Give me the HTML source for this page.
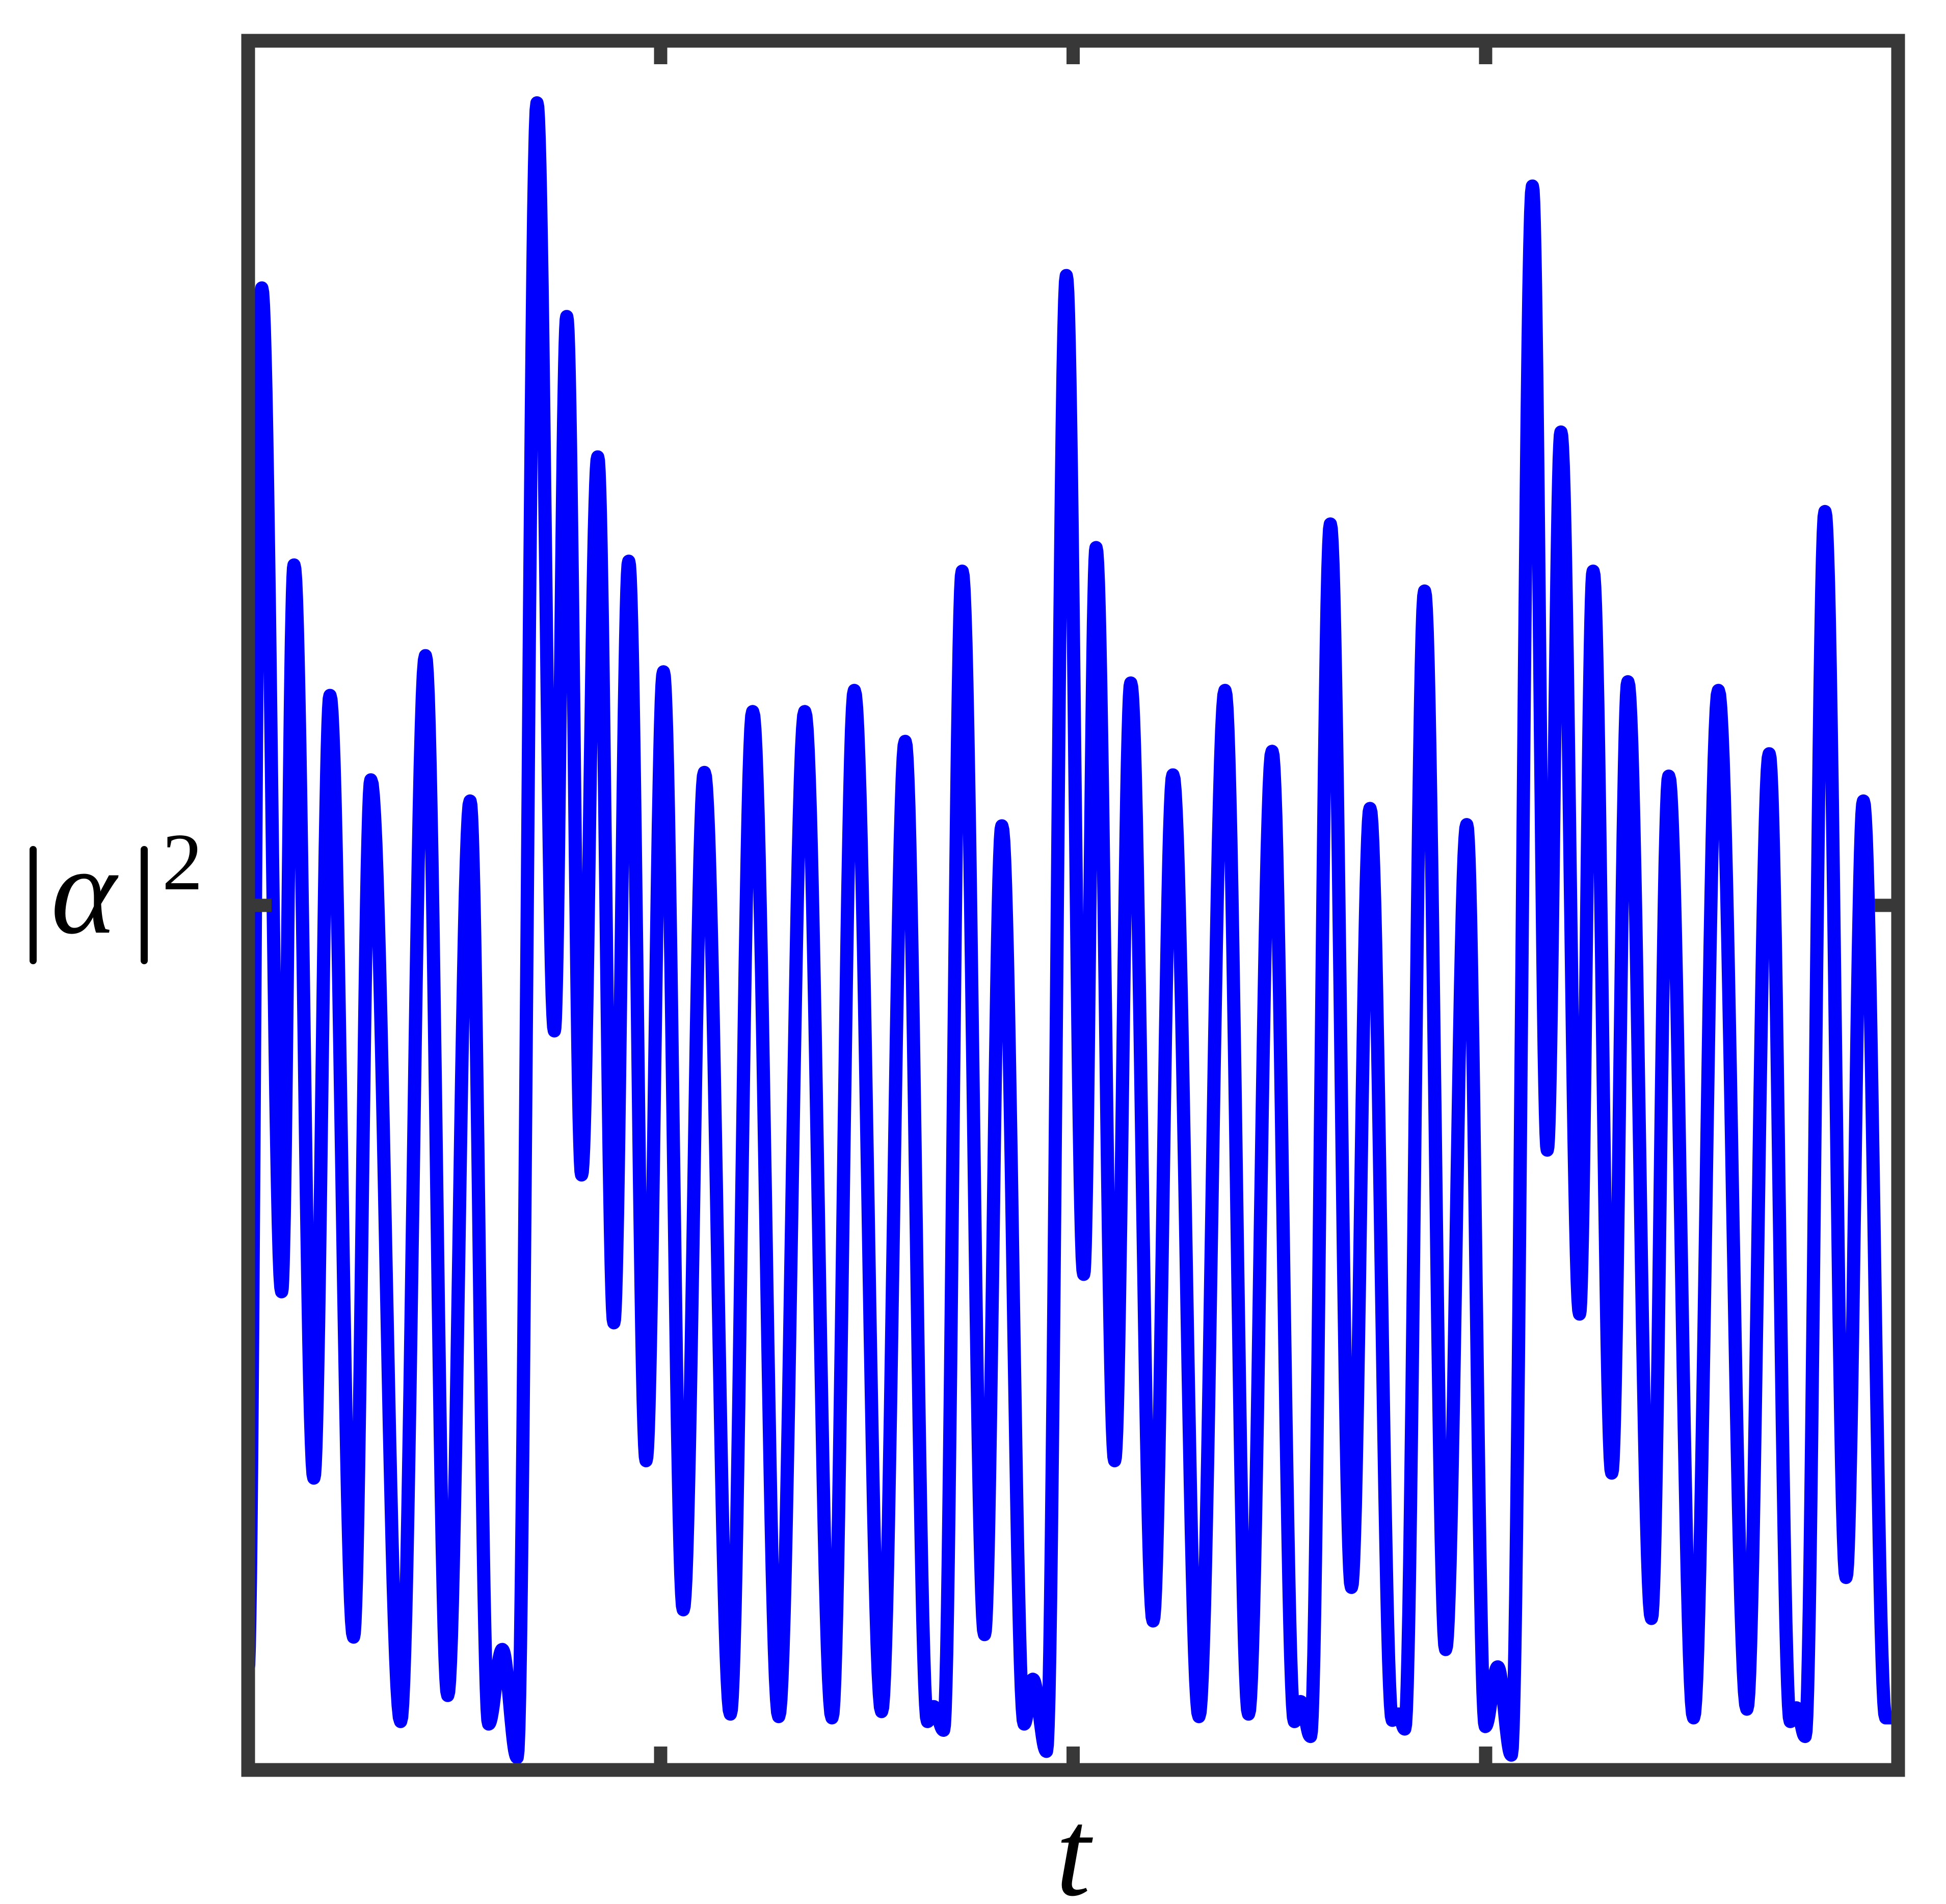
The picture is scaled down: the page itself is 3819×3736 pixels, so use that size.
<!DOCTYPE html>
<html>
<head>
<meta charset="utf-8">
<style>
  html,body{margin:0;padding:0;background:#fff;}
  svg{display:block;}
</style>
</head>
<body>
<svg id="chart" width="3819" height="3736" viewBox="0 0 3819 3736" xmlns="http://www.w3.org/2000/svg">
  <rect x="0" y="0" width="3819" height="3736" fill="#fff"/>
  <defs>
    <clipPath id="plotclip"><rect x="500" y="93" width="3212" height="3367"/></clipPath>
  </defs>
  <g id="series" clip-path="url(#plotclip)"></g>
  <rect x="487" y="80" width="3238" height="3393" fill="none" stroke="#383838" stroke-width="27"/>
  <g id="ticks"></g>
  <g font-family="Liberation Serif, serif" fill="#000">
    <rect x="58" y="1660" width="14" height="232" rx="7"/>
    <rect x="276" y="1660" width="14" height="232" rx="7"/>
    <text x="100" y="1830" font-size="245" font-style="italic">α</text>
    <text x="318" y="1745" font-size="160">2</text>
  </g>
  <text x="2106" y="3718" font-size="245" font-style="italic" font-family="Liberation Serif, serif" text-anchor="middle" fill="#000">t</text>
</svg>
<script>
// extrema of the signal: t (arbitrary units) and |alpha|^2 (arbitrary units)
const tValues = [0,11,27,37,53,66,85,99,123,143,161,179,194,205,217,233,247,257,269,282,295,307,321,335,351,368,389,407,428,449,471,489,511,530,548,553,561,576,594,608,626,633,644,660,674,684,699,712,730,746,767,788,807,826,844,849,857,873,890,905,923,928,933,949,966,983,998,1008,1019,1036,1048,1059,1074,1085,1100,1113,1132,1146,1166,1186,1209,1227,1244,1249,1256,1272,1289,1303,1321,1329];
const ampValues = [80,1193,385,970,235,865,107,797,39,897,60,780,37,97,10,1342,595,1170,479,1057,360,973,249,884,129,803,45,852,43,852,42,869,47,828,39,51,32,965,109,760,37,73,15,1203,399,984,249,875,120,801,43,869,45,820,39,55,27,1003,147,774,40,45,33,949,97,761,35,83,12,1275,499,1077,367,965,239,876,122,800,42,869,49,818,39,50,27,1013,155,780,42,42];
const tDomain = [0, 1331];
const ampDomain = [0, 1392];

const svgNS = "http://www.w3.org/2000/svg";
function xScale(t){ return 487 + (t - tDomain[0]) / (tDomain[1] - tDomain[0]) * (3725 - 487); }
function yScale(v){ return 3473 - (v - ampDomain[0]) / (ampDomain[1] - ampDomain[0]) * (3473 - 80); }

// build smooth curve (cosine interpolation between extrema)
let d = "";
for (let i = 0; i < tValues.length - 1; i++) {
  const t0 = tValues[i], t1 = tValues[i+1], a0 = ampValues[i], a1 = ampValues[i+1];
  const n = 24;
  for (let k = (i === 0 ? 0 : 1); k <= n; k++) {
    const f = k / n;
    const t = t0 + (t1 - t0) * f;
    const w = (1 - Math.cos(Math.PI * f)) / 2;
    const a = a0 + (a1 - a0) * w;
    d += (d === "" ? "M" : "L") + xScale(t).toFixed(1) + "," + yScale(a).toFixed(1);
  }
}
const path = document.createElementNS(svgNS, "path");
path.setAttribute("d", d);
path.setAttribute("fill", "none");
path.setAttribute("stroke", "#0000ff");
path.setAttribute("stroke-width", "26");
path.setAttribute("stroke-linejoin", "round");
path.setAttribute("stroke-linecap", "round");


document.getElementById("series").appendChild(path);

// ticks
const xTickPositions = [1/4, 2/4, 3/4];
const yTickPositions = [1/2];
const tg = document.getElementById("ticks");
function addTick(x1,y1,x2,y2,name){
  const l = document.createElementNS(svgNS, "line");
  l.setAttribute("x1", x1); l.setAttribute("y1", y1);
  l.setAttribute("x2", x2); l.setAttribute("y2", y2);
  l.setAttribute("stroke", "#383838");
  l.setAttribute("stroke-width", "26");
  
  
  tg.appendChild(l);
}
xTickPositions.forEach(function(p){
  const x = xScale(tDomain[0] + p * (tDomain[1] - tDomain[0]));
  addTick(x, 3473, x, 3427, "x-tick-bottom");
  addTick(x, 80, x, 126, "x-tick-top");
});
yTickPositions.forEach(function(p){
  const y = yScale(ampDomain[0] + p * (ampDomain[1] - ampDomain[0]));
  addTick(487, y, 533, y, "y-tick-left");
  addTick(3725, y, 3679, y, "y-tick-right");
});
</script>
</body>
</html>
